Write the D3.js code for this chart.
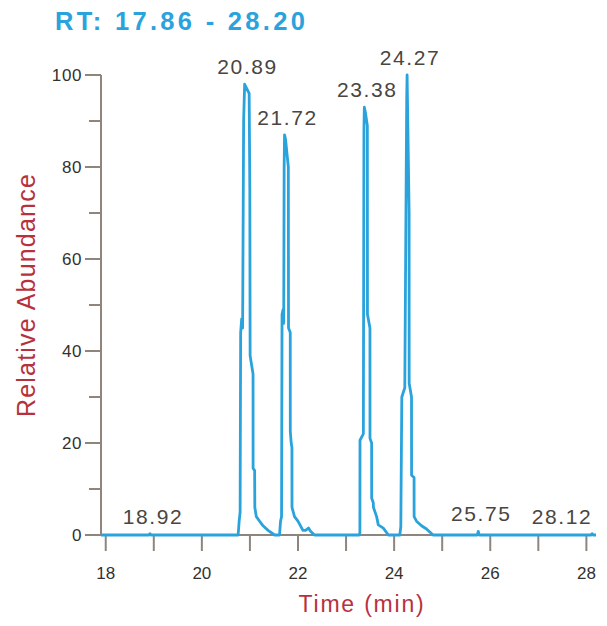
<!DOCTYPE html>
<html>
<head>
<meta charset="utf-8">
<script src="https://cdn.jsdelivr.net/npm/d3@7"></script>
<style>
  body { margin: 0; background: #fff; }
  text { font-family: "Liberation Sans", Arial, sans-serif; }
</style>
</head>
<body>
<svg id="chrom" width="607" height="626"></svg>
<script>
(function() {
  /* Data: chromatogram trace (time in min, relative abundance in %) */
  var rtTimes = [
    17.86, 18.90, 18.92, 18.94,
    20.755, 20.776, 20.796, 20.807, 20.828, 20.848, 20.869, 20.890, 20.911, 20.984, 20.998, 21.004,
    21.065, 21.066, 21.098, 21.102, 21.133, 21.202, 21.273, 21.377, 21.514,
    21.616, 21.637, 21.658, 21.668, 21.689, 21.703, 21.712, 21.720, 21.741, 21.799, 21.803, 21.839,
    21.840, 21.859, 21.874, 21.875, 21.928, 21.999, 22.103, 22.157, 22.219, 22.261, 22.344,
    23.270, 23.288, 23.290, 23.360, 23.372, 23.380, 23.400, 23.443, 23.445, 23.497, 23.498, 23.532,
    23.533, 23.567, 23.570, 23.636, 23.671, 23.775, 23.880,
    24.118, 24.139, 24.160, 24.222, 24.262, 24.270, 24.312, 24.313, 24.362, 24.363, 24.415, 24.416,
    24.466, 24.570, 24.674, 24.810,
    25.73, 25.75, 25.77,
    28.10, 28.12, 28.14, 28.20
  ];
  var abundance = [
    0, 0, 0.3, 0,
    0, 3, 5, 44, 47, 45, 90, 98, 97.5, 96, 75, 39,
    35, 14.5, 14, 6, 4, 3, 2, 1, 0,
    0, 3, 4, 48, 49, 46, 80, 87, 86, 80, 45, 44,
    22.5, 20, 19, 6, 4, 3, 1, 1, 1.5, 0.8, 0,
    0, 0.5, 20.6, 22, 88, 93, 92, 89, 48, 45, 21, 20,
    8, 7, 6, 4, 2.2, 1.5, 0,
    0, 1.8, 30, 32, 95, 100, 70, 33, 30, 13, 12.5, 4,
    3, 2, 1.3, 0,
    0, 0.8, 0,
    0, 0.3, 0, 0
  ];

  /* labelled peaks */
  var peakRT = [18.92, 20.89, 21.72, 23.38, 24.27, 25.75, 28.12];
  var peakHeight = [0.3, 98, 87, 93, 100, 0.8, 0.3];

  /* axes */
  var xRange = [17.86, 28.20];
  var xTicks = [18, 19, 20, 21, 22, 23, 24, 25, 26, 27, 28];
  var xTickLabels = ["18", "", "20", "", "22", "", "24", "", "26", "", "28"];
  var yMajorTicks = [0, 20, 40, 60, 80, 100];
  var yMinorTicks = [10, 30, 50, 70, 90];

  /* SVG properties */
  var blue = "#2aa3dd";
  var axisColor = "#8f857c";
  var labelRed = "#b7313d";
  var left = 99, right = 596, top = 75, bottom = 535, axisX = 101;

  var svg = d3.select("#chrom");
  var x = d3.scaleLinear().domain(xRange).range([left, right]);
  var y = d3.scaleLinear().domain([0, 100]).range([bottom, top]);

  /* title */
  svg.append("text")
     .attr("x", 55).attr("y", 30)
     .attr("fill", blue)
     .attr("font-size", 25.5).attr("font-weight", "bold")
     .attr("letter-spacing", 3.3)
     .text("RT: " + xRange[0].toFixed(2) + " - " + xRange[1].toFixed(2));

  /* y axis */
  var gy = svg.append("g");
  gy.append("line")
    .attr("x1", axisX).attr("x2", axisX)
    .attr("y1", y(100)).attr("y2", y(0))
    .attr("stroke", axisColor).attr("stroke-width", 2);
  gy.selectAll(".major").data(yMajorTicks).enter().append("line")
    .attr("x1", axisX - 16).attr("x2", axisX)
    .attr("y1", function(d) { return y(d); })
    .attr("y2", function(d) { return y(d); })
    .attr("stroke", axisColor).attr("stroke-width", 2);
  gy.selectAll(".minor").data(yMinorTicks).enter().append("line")
    .attr("x1", axisX - 12).attr("x2", axisX)
    .attr("y1", function(d) { return y(d); })
    .attr("y2", function(d) { return y(d); })
    .attr("stroke", axisColor).attr("stroke-width", 2);
  gy.selectAll("text").data(yMajorTicks).enter().append("text")
    .attr("x", axisX - 19)
    .attr("y", function(d) { return y(d) + 6; })
    .attr("text-anchor", "end")
    .attr("font-size", 17).attr("letter-spacing", 0.6).attr("fill", "#33312f")
    .text(function(d) { return d; });

  /* x axis */
  var gx = svg.append("g");
  gx.append("line")
    .attr("x1", axisX).attr("x2", right)
    .attr("y1", bottom).attr("y2", bottom)
    .attr("stroke", axisColor).attr("stroke-width", 2);
  gx.selectAll(".tick").data(xTicks).enter().append("line")
    .attr("x1", function(d) { return x(d); })
    .attr("x2", function(d) { return x(d); })
    .attr("y1", bottom).attr("y2", bottom + 16)
    .attr("stroke", axisColor).attr("stroke-width", 2);
  gx.selectAll("text").data(xTicks).enter().append("text")
    .attr("x", function(d) { return x(d); })
    .attr("y", 579)
    .attr("text-anchor", "middle")
    .attr("font-size", 17).attr("fill", "#33312f")
    .text(function(d, i) { return xTickLabels[i]; });

  /* axis titles */
  svg.append("text")
     .attr("x", 362).attr("y", 612)
     .attr("text-anchor", "middle")
     .attr("font-size", 23).attr("letter-spacing", 1.8)
     .attr("fill", labelRed)
     .text("Time (min)");
  svg.append("text")
     .attr("transform", "translate(35,295) rotate(-90)")
     .attr("text-anchor", "middle")
     .attr("font-size", 25).attr("letter-spacing", 1.2)
     .attr("fill", labelRed)
     .text("Relative Abundance");

  /* trace */
  svg.append("clipPath").attr("id", "plotClip")
     .append("rect")
     .attr("x", axisX).attr("y", 0)
     .attr("width", 607 - axisX).attr("height", bottom + 3);
  var line = d3.line()
               .x(function(d, i) { return x(rtTimes[i]); })
               .y(function(d) { return y(d); });
  svg.append("path")
     .datum(abundance)
     .attr("clip-path", "url(#plotClip)")
     .attr("d", line)
     .attr("fill", "none")
     .attr("stroke", blue)
     .attr("stroke-width", 2.8)
     .attr("stroke-linejoin", "round");

  /* peak labels */
  svg.selectAll(".peak").data(peakRT).enter().append("text")
     .attr("x", function(d) { return Math.min(x(d) + 3, 562); })
     .attr("y", function(d, i) { return y(peakHeight[i]) - 10; })
     .attr("text-anchor", "middle")
     .attr("font-size", 21).attr("letter-spacing", 1.6)
     .attr("fill", "#4a4540")
     .text(function(d) { return d.toFixed(2); });
})();
</script>
</body>
</html>
